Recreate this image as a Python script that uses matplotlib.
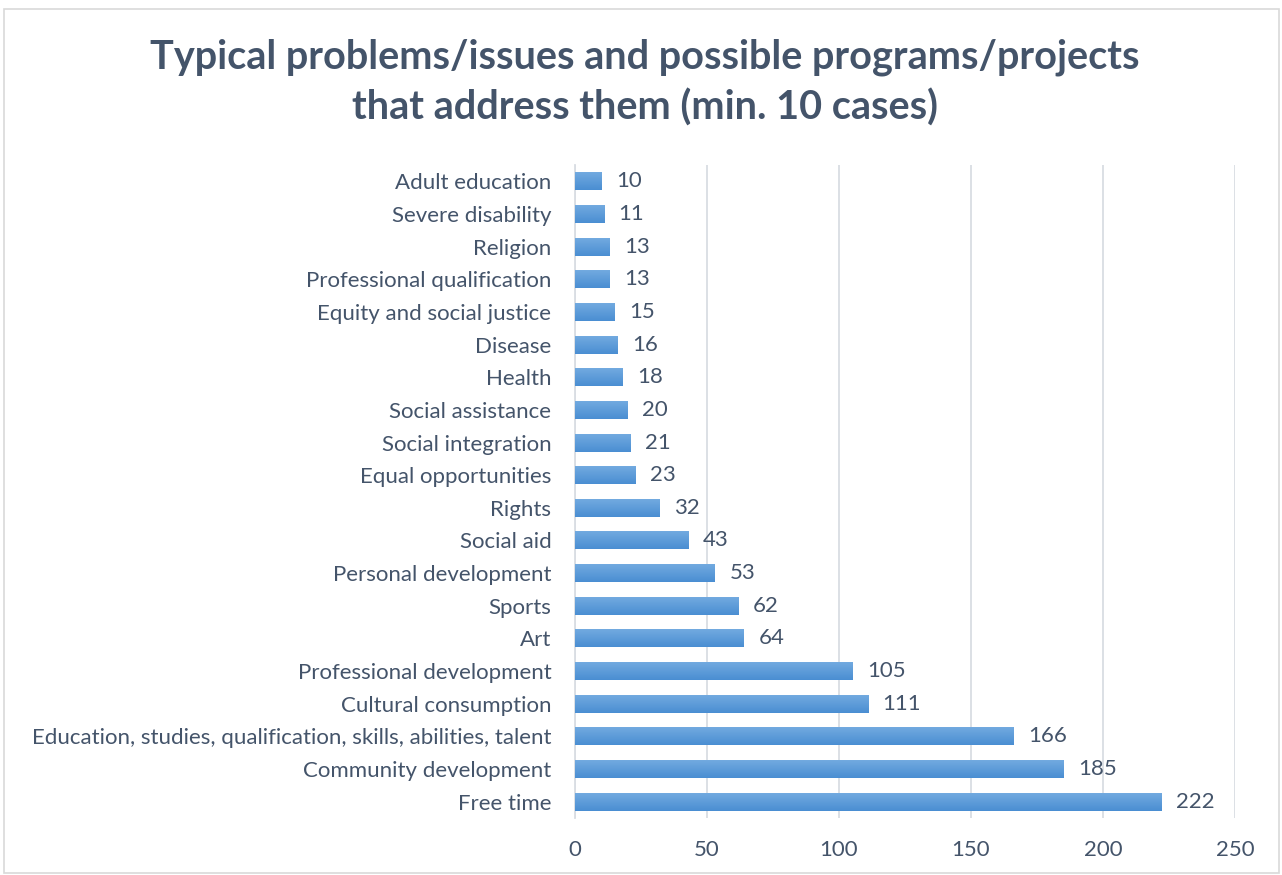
# horizontal bar chart of problems/issues and the programs that address them
import numpy as np
from matplotlib import pyplot as plt
from matplotlib.patches import Rectangle

categories = [
    'Free time',
    'Community development',
    'Education, studies, qualification, skills, abilities, talent',
    'Cultural consumption',
    'Professional development',
    'Art',
    'Sports',
    'Personal development',
    'Social aid',
    'Rights',
    'Equal opportunities',
    'Social integration',
    'Social assistance',
    'Health',
    'Disease',
    'Equity and social justice',
    'Professional qualification',
    'Religion',
    'Severe disability',
    'Adult education',
]
cases = [222, 185, 166, 111, 105, 64, 62, 53, 43, 32, 23, 21, 20, 18, 16, 15, 13, 13, 11, 10]
x_ticks = [0, 50, 100, 150, 200, 250]

text_col = '#44546a'
grid_col = '#d9dde3'
plt.rcParams['font.family'] = ['Lato', 'DejaVu Sans']

fig = plt.figure(figsize=(12.82, 8.75), dpi=100)
ax = fig.add_axes([575 / 1282, 1 - 818 / 875, 660 / 1282, 653 / 875])

# outer chart border
fig.patches.append(Rectangle((4 / 1282, 2 / 875), 1275 / 1282, 864 / 875,
                             transform=fig.transFigure, fill=False,
                             edgecolor='#d9d9d9', linewidth=1.2))

y = np.arange(len(categories))
bar_h = 0.55
bars = ax.barh(y, cases, height=bar_h, color='#5b9bd5', zorder=2)

# vertical gradient on each bar: lighter on top, darker at the bottom
grad = np.linspace(0, 1, 64).reshape(-1, 1)
cmap = plt.matplotlib.colors.LinearSegmentedColormap.from_list('bar', ['#4a8ed2', '#72aae0'])
for b in bars:
    x0, y0 = b.get_x(), b.get_y()
    im = ax.imshow(grad, cmap=cmap, aspect='auto', origin='lower', zorder=3,
                   extent=[x0, x0 + b.get_width(), y0, y0 + b.get_height()])
    im.set_clip_path(b)

for yi, v in zip(y, cases):
    ax.text(v + 5.5, yi, str(v), va='center', ha='left', fontsize=16, color=text_col)

ax.set_xlim(0, 250)
ax.set_ylim(-0.5, len(categories) - 0.5)
ax.set_xticks(x_ticks)
ax.set_yticks(y)
ax.set_yticklabels(categories)
ax.tick_params(length=0, labelsize=16, labelcolor=text_col)
ax.tick_params(axis='y', pad=17)
ax.tick_params(axis='x', pad=16)
ax.xaxis.grid(True, color=grid_col, linewidth=1.3, zorder=0)
for s in ['top', 'right', 'bottom']:
    ax.spines[s].set_visible(False)
ax.spines['left'].set_color(grid_col)
ax.spines['left'].set_linewidth(1.3)

fig.text(0.503, 1 - 57 / 875, 'Typical problems/issues and possible programs/projects',
         ha='center', va='center', fontsize=28.5, fontweight='bold', color=text_col)
fig.text(0.503, 1 - 108 / 875, 'that address them (min. 10 cases)',
         ha='center', va='center', fontsize=28.5, fontweight='bold', color=text_col)

plt.savefig('out.png', dpi=100)
